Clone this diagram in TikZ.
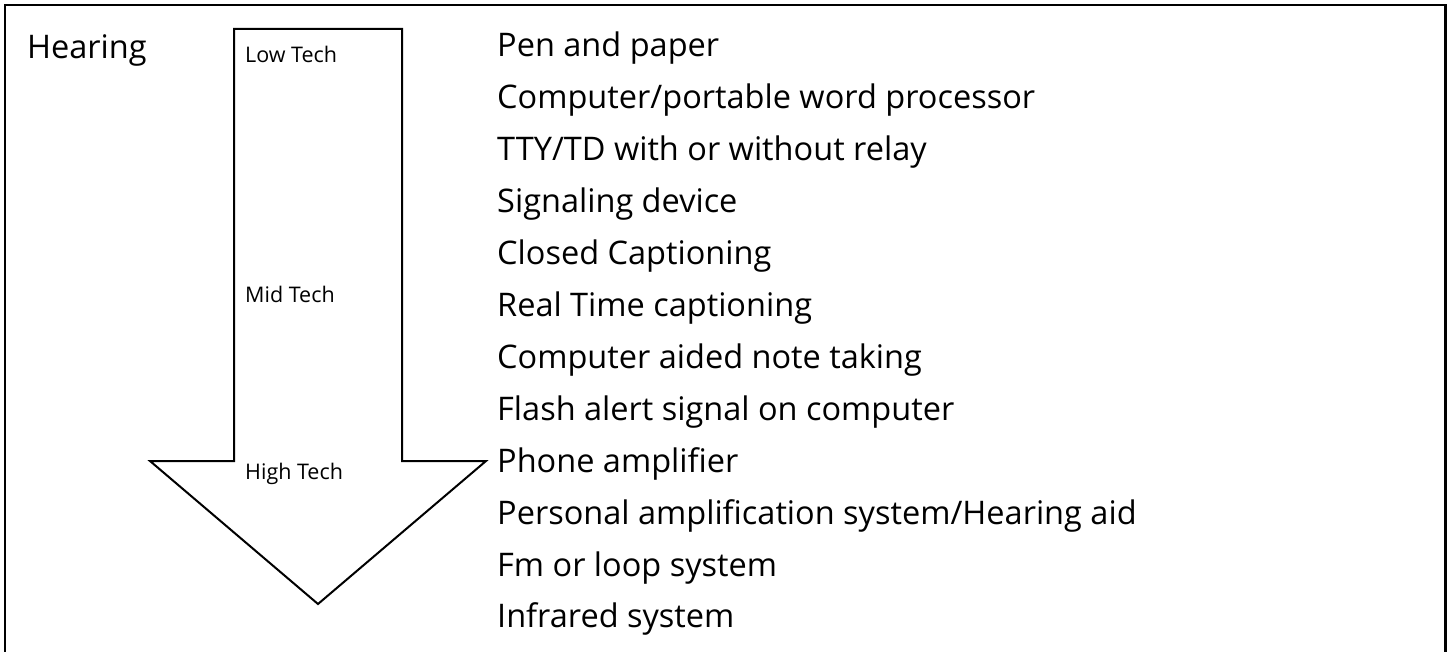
\documentclass[tikz,border=0pt]{standalone}
\usepackage{fontspec}
\setmainfont{Open Sans}
\begin{document}
\begin{tikzpicture}[x=1pt,y=-1pt,
  frame/.style={line width=2.5pt,line join=miter},
  arrowshape/.style={line width=2pt,line join=miter},
  bigtext/.style={anchor=base west,inner sep=0pt,font=\fontsize{32.5}{38}\selectfont},
  smalltext/.style={anchor=base west,inner sep=0pt,font=\fontsize{21.5}{26}\selectfont}]
\useasboundingbox (0,0) rectangle (1447,652);
\draw[frame] (5,653) -- (5,5) -- (1445.5,5) -- (1445.5,653);
\coordinate (sl) at (234,29);
\coordinate (sr) at (402,29);
\coordinate (tip) at (318,604);
\draw[arrowshape] (sl) -- (sr) -- (402,461) -- (486,461) -- (tip) -- (150,461) -- (234,461) -- cycle;
\node[bigtext] (hearing) at (27,59) {Hearing};
\node[smalltext] (low) at (245,63) {Low Tech};
\node[smalltext] (mid) at (245,302) {Mid Tech};
\node[smalltext] (high) at (245,479) {High Tech};
\foreach \t [count=\i from 0] in {Pen and paper,Computer/portable word processor,TTY/TD with or without relay,Signaling device,Closed Captioning,Real Time captioning,Computer aided note taking,Flash alert signal on computer,Phone amplifier,Personal amplification system/Hearing aid,Fm or loop system,Infrared system}
  \node[bigtext] (item\i) at (497,57+51.9*\i) {\t};
\end{tikzpicture}
\end{document}
